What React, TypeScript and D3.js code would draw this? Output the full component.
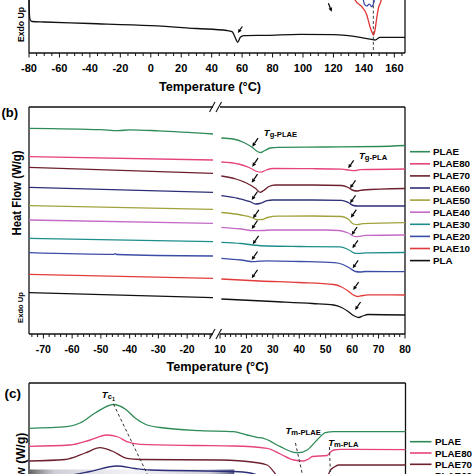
import React from "react";
import * as d3 from "d3";

type P = [number, number];

const FONT = "Arial, 'Liberation Sans', Helvetica, sans-serif";

// ---------------- Panel (a) ----------------
const aMajorTicks = [-80, -60, -40, -20, 0, 20, 40, 60, 80, 100, 120, 140, 160];
const aBlack: P[] = [
  [-80, 56], [-79.7, 38], [-79.2, 33], [-78, 31.5], [-70, 31], [-40, 29.5], [0, 27.3],
  [30, 24.5], [50, 22.5], [53.4, 21.3], [55.6, 15], [57.1, 10.7], [58.8, 15.7], [61, 17.3],
  [76, 17.7], [98, 18.7], [119.7, 18.3], [137.5, 15.7], [145, 13.7], [147.3, 13],
  [150.6, 15.7], [167, 15.7],
];
const aRed: P[] = [
  [133.5, 57], [134.2, 53], [138.6, 46.3], [141.9, 38], [144, 26.3], [145.6, 19.7],
  [146.2, 18], [147.3, 23], [148.4, 34.7], [149.5, 44.7], [151.1, 51.3], [152, 57],
];
const aBlue: P[] = [
  [139.5, 56], [139.7, 53], [140.3, 49], [141.9, 47], [143.6, 49], [145.2, 46.3],
  [146.2, 49], [146.9, 53], [147, 56],
];
const aDash: P[] = [[146.2, 3], [146.2, 55]];
const aArrows: { tip: P; d: P }[] = [
  { tip: [57.2, 20], d: [4.5, -6.5] },
  { tip: [118.9, 41.3], d: [-3.4, -8.4] },
];

// ---------------- Panel (b) ----------------
const bNames = ["PLAE", "PLAE80", "PLAE70", "PLAE60", "PLAE50", "PLAE40", "PLAE30", "PLAE20", "PLAE10", "PLA"];
const bColors = ["#2e8b57", "#e6427e", "#6e1f2c", "#2c2f78", "#a2a23c", "#c46ac6", "#1d8e8c", "#3b4ca6", "#e23b3b", "#111111"];
const bLeftTicks = [-70, -60, -50, -40, -30, -20];
const bRightTicks = [10, 20, 30, 40, 50, 60, 70, 80];

const bLeft: P[][] = [
  [[-75, 205.7], [-50, 204.3], [-44, 203.3], [-40, 204.2], [-30, 203.2], [-11, 200]],
  [[-75, 177.3], [-11, 174]],
  [[-75, 166.7], [-11, 160.7]],
  [[-75, 146.7], [-11, 141.7]],
  [[-75, 128.3], [-11, 124.7]],
  [[-75, 114], [-11, 110.7]],
  [[-75, 95.7], [-11, 92.3]],
  [[-75, 81.3], [-45.5, 79.6], [-45, 80.4], [-44.5, 79.5], [-11, 78]],
  [[-75, 59.7], [-11, 55.7]],
  [[-75, 41.3], [-11, 36.3]],
];

const bRight: P[][] = [
  [[10.5, 196], [15, 195], [19, 191.5], [22, 187], [24.5, 182], [25.5, 181.5], [27, 183.5], [29, 186], [32, 186.7], [50, 187], [70, 187.5], [80, 188.5]],
  [[10.5, 172], [17, 170], [21, 166.5], [24, 162.5], [25.5, 161.8], [27.5, 164], [30, 165.5], [45, 165.3], [56, 164.8], [59, 163.8], [61, 163.3], [63, 164.3], [80, 165]],
  [[10.5, 158], [16, 155], [20, 151], [23.5, 145.5], [25.2, 141.7], [26.5, 143.5], [28.5, 147.5], [31, 149], [45, 149], [56, 148.5], [58.5, 146.5], [60.5, 143.5], [62, 143], [64, 144], [80, 145.5]],
  [[10.5, 138.3], [17, 135.5], [21.4, 132.3], [23.5, 130], [25, 130.5], [27.8, 133.3], [30, 134], [45, 134], [56, 133.7], [58.5, 131.5], [60.5, 128.5], [62, 128], [80, 128]],
  [[10.5, 121.5], [18, 119], [22, 116.5], [24, 114.3], [26, 114.5], [28, 116.5], [32, 117.8], [45, 118], [56, 117.5], [58.5, 115], [60.5, 110], [62, 109.3], [64, 110.3], [80, 111.3]],
  [[10.5, 106.7], [18, 105], [22.6, 103.3], [26, 103.5], [30, 104], [50, 104], [55, 103.5], [58.5, 101], [61.3, 97.3], [63, 97.7], [65, 98.6], [80, 99]],
  [[10.5, 91.7], [18, 90.5], [22.6, 89], [27.7, 88], [40, 87.5], [55.5, 87.2], [58.5, 84.5], [61.3, 80.7], [63, 80.6], [65, 81.2], [80, 81.5]],
  [[10.5, 75.7], [18, 74], [22.6, 72.3], [25, 72.8], [27.7, 73.2], [40, 72.5], [53.2, 71.3], [56.5, 69.5], [59, 66], [61.3, 62.5], [63, 62], [65, 62.5], [80, 62.3]],
  [[10.5, 55], [25, 53], [40, 51.5], [53, 49.5], [56, 47], [58.5, 43], [60.5, 39], [62, 37.5], [64, 38.5], [66, 39.2], [80, 39]],
  [[10.5, 35], [30, 32.5], [45, 30.5], [53, 29], [56, 26.5], [58.5, 22.5], [60.5, 18.5], [62.5, 16.5], [64, 18], [66, 19.5], [80, 19]],
];

// arrow tips marking Tg-PLAE and Tg-PLA (temperature, heat-flow units)
const bTgPLAE: (P | null)[] = [
  [22.2, 187.3], [22.2, 167.3], [22.0, 151.3], [22.0, 134], [22.5, 115.7], [22.0, 105], [22.4, 89.7], [22.0, 74], [22.0, 55.7], null,
];
const bTgPLA: (P | null)[] = [
  null, [58.5, 165.7], [59.2, 145.7], [59.2, 130.7], [59.5, 116.3], [59.8, 99], [60.1, 85.7], [60.2, 65.7], [60.4, 44], [61.1, 24],
];

// ---------------- Panel (c) ----------------
const cNames = ["PLAE", "PLAE80", "PLAE70", "PLAE60"];
const cColors = ["#2e8b57", "#e6427e", "#6e1f2c", "#2c2f78"];
const cCurves: P[][] = [
  [[-80, 45.7], [-55.2, 47.3], [-46.5, 51], [-36.6, 61], [-24.6, 69.5], [-16.9, 65], [-10.4, 56], [-4, 50], [6.1, 46.5], [32.4, 43.3], [54, 42.3], [63, 39], [69.6, 36.7], [73.9, 35.7], [84.9, 27.3], [93.7, 21.7], [97, 21.3], [102.5, 24], [109, 34], [114.5, 41.3], [120, 42.3], [167, 42.3]],
  [[-80, 27.7], [-53.1, 29], [-39.9, 34], [-29, 39], [-21.5, 37], [-15.8, 32.3], [-7.1, 29.7], [30, 28.5], [54, 28], [76.2, 25.7], [84.9, 20], [93.7, 14], [100.2, 13], [103.3, 15], [106, 17.5], [115.6, 18.5], [117.8, 22], [120, 24], [124.3, 24.7], [167, 24.3]],
  [[-80, 13], [-56.3, 14.5], [-43.2, 21], [-33.4, 26.3], [-25.5, 23], [-15.8, 15.7], [-7.1, 14.5], [45.5, 14], [68.5, 11.5], [76.2, 9], [80.5, 2.3], [83.6, -4], [91.5, -11], [111.2, -12], [115.5, -4], [117.8, 4], [120, 6.7], [123.2, 9], [167, 9]],
  [[-80, -2], [-53.1, -1], [-39.9, 2.5], [-22.4, 8], [-10.4, 5.5], [-0.5, 4], [54, 2.5], [65.2, 1], [78.3, -6]],
];
const cTc: P[] = [[-24.6, 70], [-1.5, -3]];
const cTmPLAE: P[] = [[94.8, 31], [99.6, -2]];
const cTmPLA: P[] = [[117.1, 27], [117.8, -2]];

// ---------------- Scales ----------------
const aX = d3.scaleLinear().domain([-80, 167]).range([29, 405]);
const aY = d3.scaleLinear().domain([0, 53]).range([53, 0]);
const bXL = d3.scaleLinear().domain([-75, -11]).range([29, 213]);
const bXR = d3.scaleLinear().domain([10, 80]).range([220, 405]);
const bY = d3.scaleLinear().domain([0, 227]).range([334, 107]);
const cX = d3.scaleLinear().domain([-80, 167]).range([29, 405.5]);
const cY = d3.scaleLinear().domain([0, 91]).range([474, 383]);

function mkLine(x: d3.ScaleLinear<number, number>, y: d3.ScaleLinear<number, number>) {
  return d3.line<P>().x((d) => x(d[0])).y((d) => y(d[1])).curve(d3.curveMonotoneX);
}

function Arrow({ x, y, dx, dy }: { x: number; y: number; dx: number; dy: number }) {
  const len = Math.hypot(dx, dy);
  const ux = dx / len, uy = dy / len;
  const hl = 4, hw = 1.9;
  const bx = x + ux * hl, by = y + uy * hl;
  const px = -uy, py = ux;
  return (
    <g>
      <line x1={x + dx} y1={y + dy} x2={bx} y2={by} stroke="#000" strokeWidth={1.2} />
      <polygon points={`${x},${y} ${bx + px * hw},${by + py * hw} ${bx - px * hw},${by - py * hw}`} fill="#000" />
    </g>
  );
}

export default function App() {
  const la = mkLine(aX, aY);
  const lbL = mkLine(bXL, bY);
  const lbR = mkLine(bXR, bY);
  const lc = mkLine(cX, cY);
  const aMinor = d3.range(-80, 168, 5);
  const bMinorL = d3.range(-74, -11, 2);
  const bMinorR = d3.range(10, 81, 2);
  const axisColor = "#111";
  const sw = 1.3;
  const bTop = bY(227), bBot = bY(0);

  return (
    <svg width={474} height={474} style={{ position: "absolute", left: 0, top: 0, background: "#fff" }} fontFamily={FONT}>
      <defs>
        <linearGradient id="blur" x1="0" x2="1" y1="0" y2="0">
          <stop offset="0" stopColor="#555" stopOpacity={0.9} />
          <stop offset="0.12" stopColor="#b8b8c4" stopOpacity={0.7} />
          <stop offset="0.5" stopColor="#e6e6ee" stopOpacity={0.5} />
          <stop offset="0.88" stopColor="#b8b8c8" stopOpacity={0.7} />
          <stop offset="1" stopColor="#3a3f70" stopOpacity={0.9} />
        </linearGradient>
      </defs>

      {/* ================= Panel (a) ================= */}
      <g>
        <line x1={aX(-80)} x2={aX(-80)} y1={0} y2={aY(0)} stroke={axisColor} strokeWidth={sw} />
        <line x1={aX(167)} x2={aX(167)} y1={0} y2={aY(0)} stroke={axisColor} strokeWidth={sw} />
        <line x1={aX(-80)} x2={aX(167)} y1={aY(0)} y2={aY(0)} stroke={axisColor} strokeWidth={sw} />
        {aMinor.map((t) => (
          <line key={t} x1={aX(t)} x2={aX(t)} y1={aY(0)} y2={aY(0) + (t % 20 === 0 ? 4.5 : 3)} stroke={axisColor} strokeWidth={1} />
        ))}
        {aMajorTicks.map((t) => (
          <text key={t} x={aX(t)} y={72.3} fontSize={11} fontWeight="bold" textAnchor="middle">{t}</text>
        ))}
        <text x={210} y={90.5} fontSize={12.7} fontWeight="bold" textAnchor="middle">Temperature (°C)</text>
        <text transform={`translate(24,24.5) rotate(-90)`} fontSize={8.6} fontWeight="bold" textAnchor="middle">Exdo Up</text>
        <path d={la(aDash) || ""} stroke="#444" strokeWidth={1} strokeDasharray="3,2.2" fill="none" />
        <path d={la(aBlue) || ""} stroke="#3441a3" strokeWidth={1.2} fill="none" />
        <path d={la(aRed) || ""} stroke="#e03333" strokeWidth={1.3} fill="none" />
        <path d={la(aBlack) || ""} stroke="#111" strokeWidth={1.3} fill="none" />
        {aArrows.map((a, i) => (
          <Arrow key={i} x={aX(a.tip[0])} y={aY(a.tip[1])} dx={a.d[0]} dy={a.d[1]} />
        ))}
      </g>

      {/* ================= Panel (b) ================= */}
      <g>
        <text x={1.5} y={117} fontSize={13} fontWeight="bold">(b)</text>
        {/* frame */}
        <line x1={bXL(-75)} x2={213} y1={bTop} y2={bTop} stroke={axisColor} strokeWidth={sw} />
        <line x1={220} x2={bXR(80)} y1={bTop} y2={bTop} stroke={axisColor} strokeWidth={sw} />
        <line x1={bXL(-75)} x2={213} y1={bBot} y2={bBot} stroke={axisColor} strokeWidth={sw} />
        <line x1={220} x2={bXR(80)} y1={bBot} y2={bBot} stroke={axisColor} strokeWidth={sw} />
        <line x1={bXL(-75)} x2={bXL(-75)} y1={bTop} y2={bBot} stroke={axisColor} strokeWidth={sw} />
        <line x1={bXR(80)} x2={bXR(80)} y1={bTop} y2={bBot} stroke={axisColor} strokeWidth={sw} />
        {[bTop, bBot].map((yy, i) => (
          <g key={i}>
            <line x1={209.5} y1={yy + 5} x2={215} y2={yy - 5} stroke={axisColor} strokeWidth={1.1} />
            <line x1={216} y1={yy + 5} x2={221.5} y2={yy - 5} stroke={axisColor} strokeWidth={1.1} />
          </g>
        ))}
        {bMinorL.map((t) => (
          <line key={"l" + t} x1={bXL(t)} x2={bXL(t)} y1={bBot} y2={bBot + (t % 10 === 0 ? 4.5 : 3)} stroke={axisColor} strokeWidth={1} />
        ))}
        {bMinorR.map((t) => (
          <line key={"r" + t} x1={bXR(t)} x2={bXR(t)} y1={bBot} y2={bBot + (t % 10 === 0 ? 4.5 : 3)} stroke={axisColor} strokeWidth={1} />
        ))}
        {bLeftTicks.map((t) => (
          <text key={"tl" + t} x={bXL(t)} y={352.8} fontSize={10.5} fontWeight="bold" textAnchor="middle">{t}</text>
        ))}
        {bRightTicks.map((t) => (
          <text key={"tr" + t} x={bXR(t)} y={352.8} fontSize={10.5} fontWeight="bold" textAnchor="middle">{t}</text>
        ))}
        <text x={217.5} y={371} fontSize={12.7} fontWeight="bold" textAnchor="middle">Temperature (°C)</text>
        <text transform={`translate(20.5,193) rotate(-90)`} fontSize={12.5} fontWeight="bold" textAnchor="middle" textLength={85} lengthAdjust="spacingAndGlyphs">Heat Flow (W/g)</text>
        <text transform={`translate(23,307.5) rotate(-90)`} fontSize={7.6} fontWeight="bold" textAnchor="middle">Exdo Up</text>

        {bNames.map((n, i) => (
          <g key={n}>
            <path d={lbL(bLeft[i]) || ""} stroke={bColors[i]} strokeWidth={1.3} fill="none" />
            <path d={lbR(bRight[i]) || ""} stroke={bColors[i]} strokeWidth={1.3} fill="none" />
          </g>
        ))}
        {bTgPLAE.map((p, i) =>
          p ? <Arrow key={"ae" + i} x={bXR(p[0])} y={bY(p[1])} dx={5.8} dy={-8.5} /> : null
        )}
        {bTgPLA.map((p, i) =>
          p ? <Arrow key={"aa" + i} x={bXR(p[0])} y={bY(p[1])} dx={5.5} dy={-8} /> : null
        )}
        <text x={bXR(26.6)} y={bY(198)} fontWeight="bold">
          <tspan fontStyle="italic" fontSize={9.5}>T</tspan>
          <tspan fontSize={7.6} dy={1.2}>g-PLAE</tspan>
        </text>
        <text x={bXR(62.6)} y={bY(175.5)} fontWeight="bold">
          <tspan fontStyle="italic" fontSize={9.5}>T</tspan>
          <tspan fontSize={7.6} dy={1.2}>g-PLA</tspan>
        </text>
        {bNames.map((n, i) => {
          const yy = 151.7 + i * 12.1;
          return (
            <g key={"lg" + n}>
              <line x1={410} x2={430} y1={yy} y2={yy} stroke={bColors[i]} strokeWidth={1.6} />
              <text x={433} y={yy + 3.5} fontSize={9.8} fontWeight="bold">{n}</text>
            </g>
          );
        })}
      </g>

      {/* ================= Panel (c) ================= */}
      <g>
        <text x={4.5} y={397.5} fontSize={13.5} fontWeight="bold">(c)</text>
        <line x1={cX(-80)} x2={cX(167)} y1={cY(91)} y2={cY(91)} stroke={axisColor} strokeWidth={sw} />
        <line x1={cX(-80)} x2={cX(-80)} y1={cY(91)} y2={474} stroke={axisColor} strokeWidth={sw} />
        <line x1={cX(167)} x2={cX(167)} y1={cY(91)} y2={474} stroke={axisColor} strokeWidth={sw} />
        <text transform={`translate(24.5,432.5) rotate(-90)`} fontSize={12.5} fontWeight="bold" textAnchor="end">Heat Flow (W/g)</text>
        <rect x={cX(-80) + 1} y={469.5} width={cX(54) - cX(-80)} height={4.5} fill="url(#blur)" />
        {cNames.map((n, i) => (
          <path key={n} d={lc(cCurves[i]) || ""} stroke={cColors[i]} strokeWidth={1.3} fill="none" />
        ))}
        {[cTc, cTmPLAE, cTmPLA].map((d, i) => (
          <path key={"dash" + i} d={d3.line<P>().x((p) => cX(p[0])).y((p) => cY(p[1]))(d) || ""} stroke="#333" strokeWidth={1} strokeDasharray="3,2.5" fill="none" />
        ))}
        <text x={cX(-32.2)} y={cY(76)} fontWeight="bold">
          <tspan fontStyle="italic" fontSize={9.5}>T</tspan>
          <tspan fontSize={7.6} dy={1.2}>c</tspan>
          <tspan fontSize={5.5} dy={1.5}>1</tspan>
        </text>
        <text x={cX(88.2)} y={cY(40.5)} fontWeight="bold">
          <tspan fontStyle="italic" fontSize={9.5}>T</tspan>
          <tspan fontSize={7.6} dy={1.2}>m-PLAE</tspan>
        </text>
        <text x={cX(116.3)} y={cY(28)} fontWeight="bold">
          <tspan fontStyle="italic" fontSize={9.5}>T</tspan>
          <tspan fontSize={7.6} dy={1.2}>m-PLA</tspan>
        </text>
        {cNames.map((n, i) => {
          const yy = 441.7 + i * 11.3;
          return (
            <g key={"lc" + n}>
              <line x1={410} x2={431.5} y1={yy} y2={yy} stroke={cColors[i]} strokeWidth={1.6} />
              <text x={435} y={yy + 3.5} fontSize={9.8} fontWeight="bold">{n}</text>
            </g>
          );
        })}
      </g>
    </svg>
  );
}
